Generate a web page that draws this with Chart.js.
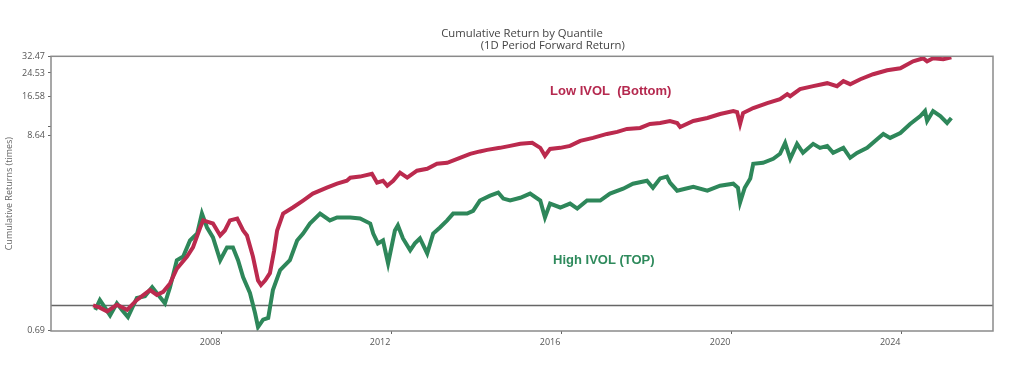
<!DOCTYPE html>
<html lang="en">
<head>
<meta charset="UTF-8">
<title>Cumulative Return by Quantile</title>
<script src="https://cdn.jsdelivr.net/npm/chart.js"></script>
<style>
  body { margin: 0; background: #fff; }
  #wrap { width: 1024px; height: 373px; }
</style>
</head>
<body>
<div id="wrap"><canvas id="qChart" width="1024" height="373"></canvas></div>
<script>
// Low IVOL (bottom quantile), cumulative return in times
const lowYears = [2004.99, 2005.15, 2005.32, 2005.55, 2005.79, 2006.02, 2006.33, 2006.49, 2006.64, 2006.80,
  2006.96, 2007.20, 2007.34, 2007.51, 2007.58, 2007.69, 2007.81, 2007.98, 2008.09, 2008.21,
  2008.38, 2008.52, 2008.61, 2008.75, 2008.87, 2008.94, 2009.04, 2009.15, 2009.25, 2009.32,
  2009.46, 2009.69, 2009.93, 2010.16, 2010.49, 2010.73, 2010.96, 2011.04, 2011.27, 2011.55,
  2011.67, 2011.81, 2011.91, 2012.05, 2012.21, 2012.38, 2012.61, 2012.85, 2013.08, 2013.32,
  2013.62, 2013.86, 2014.09, 2014.26, 2014.56, 2014.80, 2015.04, 2015.32, 2015.51, 2015.62,
  2015.74, 2015.98, 2016.21, 2016.45, 2016.75, 2017.08, 2017.32, 2017.55, 2017.86, 2018.09,
  2018.33, 2018.56, 2018.73, 2018.80, 2019.11, 2019.44, 2019.74, 2020.05, 2020.14, 2020.21,
  2020.28, 2020.52, 2020.85, 2021.15, 2021.32, 2021.39, 2021.62, 2021.93, 2022.26, 2022.49,
  2022.64, 2022.80, 2023.04, 2023.34, 2023.67, 2023.98, 2024.28, 2024.52, 2024.61, 2024.75,
  2024.99, 2025.18];
const lowValues = [1.00, 0.97, 0.92, 1.01, 0.94, 1.08, 1.24, 1.16, 1.21, 1.36,
  1.67, 1.98, 2.25, 2.97, 3.28, 3.21, 3.14, 2.66, 2.85, 3.28,
  3.37, 2.85, 2.66, 1.98, 1.42, 1.33, 1.42, 1.57, 2.16, 2.85,
  3.61, 3.93, 4.33, 4.77, 5.18, 5.48, 5.71, 5.96, 6.05, 6.30,
  5.56, 5.71, 5.33, 5.71, 6.39, 5.96, 6.57, 6.75, 7.24, 7.34,
  7.87, 8.32, 8.60, 8.79, 9.04, 9.29, 9.56, 9.69, 9.04, 8.09,
  8.91, 9.04, 9.29, 9.96, 10.39, 10.98, 11.30, 11.77, 11.94, 12.62,
  12.80, 13.16, 12.80, 12.10, 13.16, 13.72, 14.50, 15.12, 14.90, 12.62,
  14.70, 15.76, 16.90, 17.86, 19.15, 18.60, 20.52, 21.40, 22.31, 21.40,
  22.94, 22.00, 23.58, 25.28, 26.73, 27.48, 30.29, 31.58, 30.29, 31.58,
  31.14, 32.02];

// High IVOL (top quantile)
const highYears = [2005.04, 2005.15, 2005.27, 2005.39, 2005.55, 2005.67, 2005.81, 2006.02, 2006.21, 2006.38,
  2006.52, 2006.68, 2006.80, 2006.96, 2007.11, 2007.27, 2007.44, 2007.55, 2007.67, 2007.81,
  2007.98, 2008.14, 2008.28, 2008.40, 2008.52, 2008.68, 2008.80, 2008.87, 2008.99, 2009.11,
  2009.22, 2009.39, 2009.62, 2009.79, 2009.93, 2010.09, 2010.33, 2010.56, 2010.73, 2011.04,
  2011.27, 2011.51, 2011.58, 2011.69, 2011.81, 2011.93, 2012.09, 2012.16, 2012.28, 2012.45,
  2012.56, 2012.68, 2012.85, 2012.99, 2013.15, 2013.32, 2013.46, 2013.79, 2013.93, 2014.09,
  2014.33, 2014.52, 2014.64, 2014.80, 2015.04, 2015.27, 2015.51, 2015.62, 2015.74, 2015.98,
  2016.21, 2016.38, 2016.61, 2016.92, 2017.15, 2017.46, 2017.69, 2018.02, 2018.16, 2018.33,
  2018.49, 2018.56, 2018.73, 2018.92, 2019.11, 2019.44, 2019.74, 2020.05, 2020.16, 2020.21,
  2020.32, 2020.45, 2020.52, 2020.75, 2020.99, 2021.15, 2021.27, 2021.39, 2021.55, 2021.69,
  2021.93, 2022.09, 2022.26, 2022.40, 2022.64, 2022.80, 2022.96, 2023.20, 2023.44, 2023.58,
  2023.74, 2023.98, 2024.21, 2024.45, 2024.56, 2024.61, 2024.75, 2024.92, 2025.08, 2025.18];
const highValues = [0.94, 1.08, 0.97, 0.87, 1.03, 0.94, 0.85, 1.11, 1.14, 1.29,
  1.16, 1.03, 1.29, 1.88, 1.98, 2.48, 2.73, 3.61, 2.97, 2.59,
  1.88, 2.25, 2.25, 1.88, 1.48, 1.19, 0.90, 0.74, 0.82, 0.84,
  1.24, 1.64, 1.88, 2.48, 2.73, 3.14, 3.61, 3.28, 3.42, 3.42,
  3.37, 3.14, 2.73, 2.38, 2.48, 1.80, 2.85, 3.06, 2.55, 2.16,
  2.38, 2.55, 2.07, 2.73, 2.97, 3.28, 3.61, 3.61, 3.75, 4.33,
  4.64, 4.84, 4.45, 4.33, 4.50, 4.77, 4.33, 3.42, 4.15, 3.93,
  4.15, 3.87, 4.33, 4.33, 4.77, 5.11, 5.48, 5.71, 5.18, 5.90,
  6.05, 5.56, 4.97, 5.11, 5.25, 4.97, 5.33, 5.48, 5.18, 4.21,
  5.18, 5.90, 7.24, 7.34, 7.76, 8.32, 9.69, 7.76, 9.56, 8.43,
  9.56, 9.04, 9.29, 8.43, 9.04, 7.87, 8.43, 9.04, 10.24, 10.98,
  10.39, 11.13, 12.62, 14.10, 15.12, 13.16, 15.12, 14.10, 12.80, 13.72];

const xTicks = [2008, 2012, 2016, 2020, 2024];
// y ticks sit where the original drew them; the labels are the original's text
const yTickValues = [32.47, 25.73, 18.42, 12.13, 10.71, 0.706];
const yTickLabels = ['32.47', '24.53', '16.58', '', '8.64', '0.69'];

const lowColor = '#bb2a4e';
const highColor = '#2e875a';

function toPoints(xs, ys) {
  return xs.map((x, i) => ({ x: x, y: ys[i] }));
}

// box around the plot, the 1.0 baseline and the two series captions
const framePlugin = {
  id: 'frame',
  beforeDatasetsDraw(chart) {
    const ctx = chart.ctx, a = chart.chartArea;
    const y1 = chart.scales.y.getPixelForValue(1);
    ctx.save();
    ctx.strokeStyle = '#666';
    ctx.lineWidth = 1.5;
    ctx.beginPath();
    ctx.moveTo(a.left, y1);
    ctx.lineTo(a.right, y1);
    ctx.stroke();
    ctx.restore();
  },
  afterDraw(chart) {
    const ctx = chart.ctx, a = chart.chartArea;
    const sx = chart.scales.x, sy = chart.scales.y;
    ctx.save();
    ctx.strokeStyle = '#8a8a8a';
    ctx.lineWidth = 1.5;
    ctx.strokeRect(a.left, a.top, a.right - a.left, a.bottom - a.top);
    ctx.font = 'bold 13px "Liberation Sans", Arial, sans-serif';
    ctx.textAlign = 'left';
    ctx.textBaseline = 'middle';
    ctx.fillStyle = '#b5294f';
    ctx.fillText('Low IVOL  (Bottom)', sx.getPixelForValue(2015.74), sy.getPixelForValue(19.9));
    ctx.fillStyle = '#2e8a5c';
    ctx.fillText('High IVOL (TOP)', sx.getPixelForValue(2015.81), sy.getPixelForValue(1.87));
    ctx.restore();
  }
};

new Chart(document.getElementById('qChart'), {
  type: 'line',
  data: {
    datasets: [{
      label: 'Low IVOL (Bottom)',
      data: toPoints(lowYears, lowValues),
      borderColor: lowColor,
      borderWidth: 4,
      pointRadius: 0,
      tension: 0
    }, {
      label: 'High IVOL (TOP)',
      data: toPoints(highYears, highValues),
      borderColor: highColor,
      borderWidth: 4,
      pointRadius: 0,
      tension: 0
    }]
  },
  options: {
    responsive: false,
    animation: false,
    layout: { padding: { left: 0, right: 31, top: 0, bottom: 0 } },
    plugins: {
      legend: { display: false },
      tooltip: { enabled: false },
      title: {
        display: true,
        fullSize: false,
        text: ['Cumulative Return by Quantile', '                     (1D Period Forward Return)'],
        color: '#444',
        font: { family: '"Open Sans", sans-serif', size: 11.3, weight: 'normal', lineHeight: 1.12 },
        padding: { top: 27, bottom: 4 }
      }
    },
    scales: {
      x: {
        type: 'linear',
        min: 2004.0,
        max: 2026.16,
        afterBuildTicks: s => { s.ticks = xTicks.map(v => ({ value: v })); },
        afterFit: s => { s.height = 42; },
        grid: { drawOnChartArea: false, drawTicks: true, tickLength: 3, color: '#666' },
        border: { display: false },
        ticks: {
          color: '#555',
          font: { family: '"Open Sans", sans-serif', size: 9 },
          maxRotation: 0,
          labelOffset: -11,
          padding: 3,
          callback: v => String(v)
        }
      },
      y: {
        type: 'logarithmic',
        min: 0.706,
        max: 32.47,
        afterBuildTicks: s => { s.ticks = yTickValues.map(v => ({ value: v })); },
        afterFit: s => { s.width = 51; },
        grid: { drawOnChartArea: false, drawTicks: true, tickLength: 3, color: '#666' },
        border: { display: false },
        ticks: {
          color: '#555',
          font: { family: '"Open Sans", sans-serif', size: 9 },
          padding: 3,
          autoSkip: false,
          callback: (v, i) => yTickLabels[i]
        },
        title: {
          display: true,
          text: 'Cumulative Returns (times)',
          color: '#666',
          font: { family: '"Open Sans", sans-serif', size: 9 },
          padding: { top: 4, bottom: 0 }
        }
      }
    }
  },
  plugins: [framePlugin]
});
</script>
</body>
</html>
